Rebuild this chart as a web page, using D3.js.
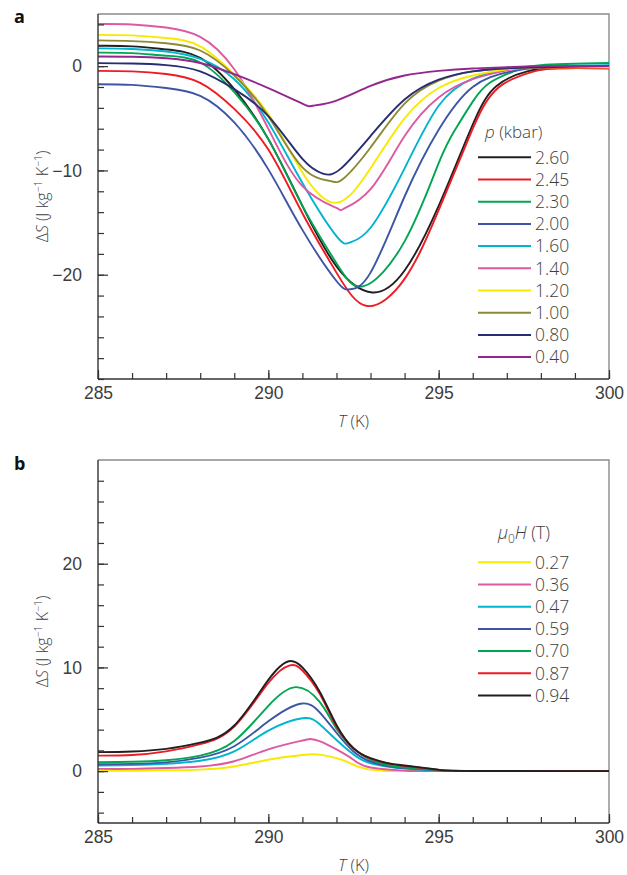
<!DOCTYPE html>
<html>
<head>
<meta charset="utf-8">
<script src="https://cdn.jsdelivr.net/npm/d3@7/dist/d3.min.js"></script>
<style>
  html, body { margin: 0; padding: 0; background: #fff; }
  svg { display: block; font-family: "Open Sans", "Noto Sans", sans-serif; }
</style>
</head>
<body>
<svg id="chart" width="627" height="875"></svg>
<script>
// ---------------- DATA ----------------
// Panel a: ΔS vs T for hydrostatic pressure p (kbar)
const pressureLabels = ["2.60", "2.45", "2.30", "2.00", "1.60", "1.40", "1.20", "1.00", "0.80", "0.40"];
const p260 = [[285,1.95],[286,1.9],[287,1.6],[288,0.8],[289,-2.2],[290,-7.0],[291,-13.4],[292,-19.2],[293.05,-21.7],[294,-19.6],[295,-13.4],[296,-5.6],[296.7,-1.9],[297.6,-0.5],[298.5,-0.2],[300,-0.2]];
const p245 = [[285,-0.45],[286,-0.5],[287,-0.75],[288,-1.6],[289,-4.1],[290,-8.0],[291,-14.1],[292,-19.8],[292.9,-23.0],[294,-20.4],[295,-13.8],[296,-6.0],[296.4,-3.4],[296.9,-1.7],[297.8,-0.5],[298.5,-0.2],[300,-0.2]];
const p230 = [[285,1.3],[286,1.25],[287,1.0],[288,0.35],[289,-2.5],[290,-7.0],[291,-13.4],[292,-18.9],[292.8,-21.1],[294,-16.8],[295,-9.3],[295.5,-6.0],[296,-3.4],[296.5,-1.6],[297.2,-0.5],[298,0.1],[300,0.3]];
const p200 = [[285,-1.73],[286,-1.8],[287,-2.1],[288,-2.85],[289,-5.4],[290,-9.9],[291,-15.7],[292,-20.6],[292.4,-21.4],[293,-19.8],[294,-12.5],[295,-6.1],[296,-2.0],[297,-0.6],[298,-0.1],[300,0.0]];
const p160 = [[285,1.7],[286,1.65],[287,1.4],[288,0.7],[289,-1.25],[290,-5.4],[291,-11.2],[292,-16.3],[292.4,-16.9],[293,-15.5],[294,-9.8],[295,-3.8],[296,-1.2],[297,-0.3],[298,0.0],[300,0.1]];
const p140 = [[285,4.04],[286,4.0],[287,3.7],[288,2.8],[289,-0.3],[290,-6.0],[291,-11.5],[292,-13.6],[292.2,-13.7],[293,-11.8],[294,-6.7],[295,-3.0],[296,-1.25],[297,-0.4],[298,-0.1],[300,-0.1]];
const p120 = [[285,3.0],[286,2.95],[287,2.7],[288,1.9],[289,-0.8],[290,-4.6],[291,-10.2],[292,-13.1],[293,-9.8],[294,-5.0],[295,-2.1],[296,-0.9],[297,-0.3],[298,-0.1],[300,-0.1]];
const p100 = [[285,2.47],[286,2.4],[287,2.2],[288,1.5],[289,-0.9],[290,-4.8],[291,-9.7],[291.8,-11.0],[292.2,-10.8],[293,-7.8],[294,-3.6],[295,-1.4],[296,-0.5],[297,-0.2],[298,0.0],[300,0.0]];
const p080 = [[285,0.29],[286,0.25],[287,0.1],[288,-0.5],[289,-2.2],[290,-4.8],[291,-8.9],[291.6,-10.3],[292.1,-9.9],[293,-6.7],[294,-3.2],[295,-1.3],[296,-0.5],[297,-0.2],[298,-0.1],[300,0.0]];
const p040 = [[285,0.93],[286,0.9],[287,0.75],[288,0.3],[289,-0.77],[290,-2.1],[291,-3.6],[291.3,-3.8],[292,-3.3],[293,-1.9],[294,-0.9],[295,-0.45],[296,-0.22],[297,-0.1],[298,0.0],[300,0.0]];
const pressureSeries = [p260, p245, p230, p200, p160, p140, p120, p100, p080, p040];

// Panel b: ΔS vs T for magnetic field μ0H (T)
const fieldLabels = ["0.27", "0.36", "0.47", "0.59", "0.70", "0.87", "0.94"];
const h027 = [[285,0.03],[286,0.04],[287,0.07],[288,0.15],[289,0.45],[290,1.1],[291,1.55],[291.3,1.63],[291.6,1.55],[292,1.25],[292.4,0.77],[292.9,0.2],[293.5,0.02],[294,0.0],[300,0.0]];
const h036 = [[285,0.22],[286,0.22],[287,0.3],[288,0.45],[289,0.95],[290,2.1],[291,2.95],[291.24,3.1],[291.5,2.9],[292,2.1],[292.5,1.1],[293,0.35],[294,0.05],[295,0.0],[300,0.0]];
const h047 = [[285,0.55],[286,0.58],[287,0.7],[288,1.0],[289,1.9],[290,3.9],[291,5.1],[291.5,4.55],[292,3.0],[292.5,1.6],[293,0.76],[294,0.25],[295,0.05],[296,0.0],[300,0.0]];
const h059 = [[285,0.67],[286,0.7],[287,0.85],[288,1.3],[289,2.4],[290,4.8],[290.94,6.5],[291.5,5.7],[292,3.7],[292.5,1.9],[293,0.93],[293.5,0.5],[294,0.3],[295,0.08],[296,0.0],[300,0.0]];
const h070 = [[285,0.87],[286,0.9],[287,1.05],[288,1.5],[289,2.9],[290,6.3],[290.8,8.1],[291.5,6.7],[292,4.1],[292.5,2.2],[293,1.1],[293.5,0.6],[294,0.35],[295,0.1],[296,0.0],[300,0.0]];
const h087 = [[285,1.5],[286,1.55],[287,1.9],[288,2.6],[289,4.3],[290,8.5],[290.63,10.2],[291,9.7],[291.5,7.5],[292,4.3],[292.5,2.2],[293,1.2],[293.5,0.75],[294,0.5],[295,0.12],[296,0.02],[300,0.0]];
const h094 = [[285,1.83],[286,1.9],[287,2.15],[288,2.75],[289,4.4],[290,8.8],[290.6,10.6],[291,10.0],[291.5,7.7],[292,4.45],[292.5,2.2],[293,1.25],[293.5,0.77],[294,0.55],[295,0.13],[296,0.02],[300,0.0]];
const fieldSeries = [h027, h036, h047, h059, h070, h087, h094];

// Axis ticks
const xTickMajor = [285, 290, 295, 300];
const xTickMinor = d3.range(285, 301, 1);
const yTopMajor = [-20, -10, 0];
const yTopMinor = d3.range(-30, 5, 2);
const yBotMajor = [0, 10, 20];
const yBotMinor = d3.range(-4, 30, 2);

// ---------------- STYLE ----------------
const pressureColors = ["#231f20", "#ed1c24", "#00a651", "#3c55a5", "#00b4d2", "#dc5aa2", "#f7ea00", "#8c8a37", "#262d73", "#93278f"];
const fieldColors = ["#f7ea00", "#dc5aa2", "#00b4d2", "#3c55a5", "#00a651", "#ed1c24", "#231f20"];

const svg = d3.select("#chart");
const X0 = 98, X1 = 609;
const x = d3.scaleLinear().domain([285, 300]).range([X0, X1]);
const textColor = "#3d3d3d";
const fontSize = 17.5;

function panel(opts) {
  const { top, bottom, yDomain, series, colors, labels, yMajor, yMinor, legendTitle, legendLabelY0, letter, clipId } = opts;
  const y = d3.scaleLinear().domain(yDomain).range([bottom, top]);
  const g = svg.append("g");

  g.append("clipPath").attr("id", clipId).append("rect")
    .attr("x", X0).attr("y", top).attr("width", X1 - X0).attr("height", bottom - top);

  // frame: top & right in grey
  g.append("path").attr("d", `M${X0},${top}H${X1}V${bottom}`)
    .attr("fill", "none").attr("stroke", "#8a8a8a").attr("stroke-width", 1.4);

  // curves
  const line = d3.line().x(d => x(d[0])).y(d => y(d[1])).curve(d3.curveNatural);
  const cg = g.append("g").attr("clip-path", `url(#${clipId})`);
  series.forEach((s, i) => {
    cg.append("path").datum(s).attr("d", line)
      .attr("fill", "none").attr("stroke", colors[i]).attr("stroke-width", 1.9)
      .attr("stroke-linejoin", "round");
  });

  // y axis minor + major (inward ticks)
  const yMinorAxis = d3.axisLeft(y).tickValues(yMinor).tickSize(-6).tickFormat("");
  const yMajorAxis = d3.axisLeft(y).tickValues(yMajor).tickSize(-10).tickPadding(6 + 10)
    .tickFormat(d3.format("d"));
  const ya = g.append("g").attr("transform", `translate(${X0},0)`);
  ya.call(yMinorAxis);
  const yb = g.append("g").attr("transform", `translate(${X0},0)`).call(yMajorAxis);
  [ya, yb].forEach(a => {
    a.selectAll(".domain").remove();
    a.selectAll("line").attr("stroke", "#333").attr("stroke-width", 1.2);
  });
  yb.selectAll("text").attr("font-size", fontSize).attr("fill", textColor).attr("font-weight", 300);
  g.append("line").attr("x1", X0).attr("x2", X0).attr("y1", top).attr("y2", bottom)
    .attr("stroke", "#333").attr("stroke-width", 1.4);

  // x axis
  const xMinorAxis = d3.axisBottom(x).tickValues(xTickMinor).tickSize(-6).tickFormat("");
  const xMajorAxis = d3.axisBottom(x).tickValues(xTickMajor).tickSize(-9).tickPadding(12)
    .tickFormat(d3.format("d"));
  const xa = g.append("g").attr("transform", `translate(0,${bottom})`).call(xMinorAxis);
  const xb = g.append("g").attr("transform", `translate(0,${bottom})`).call(xMajorAxis);
  [xa, xb].forEach(a => {
    a.selectAll(".domain").remove();
    a.selectAll("line").attr("stroke", "#333").attr("stroke-width", 1.2);
  });
  xb.selectAll("text").attr("font-size", fontSize).attr("fill", textColor).attr("font-weight", 300)
    .attr("dy", null).attr("y", 20);
  g.append("line").attr("x1", X0).attr("x2", X1).attr("y1", bottom).attr("y2", bottom)
    .attr("stroke", "#333").attr("stroke-width", 1.4);

  // axis titles
  const xt = g.append("text").attr("x", (X0 + X1) / 2).attr("y", bottom + 48)
    .attr("text-anchor", "middle").attr("font-size", 16.5).attr("fill", textColor).attr("font-weight", 300);
  xt.append("tspan").attr("font-style", "italic").text("T");
  xt.append("tspan").text(" (K)");

  const cy = (top + bottom) / 2;
  const yt = g.append("text").attr("transform", `translate(48,${cy}) rotate(-90)`)
    .attr("text-anchor", "middle").attr("font-size", 16).attr("fill", textColor).attr("font-weight", 300);
  yt.append("tspan").text("Δ");
  yt.append("tspan").attr("font-style", "italic").text("S");
  yt.append("tspan").text(" (J kg");
  yt.append("tspan").attr("font-size", 10.5).attr("dy", -6).text("−1");
  yt.append("tspan").attr("dy", 6).text(" K");
  yt.append("tspan").attr("font-size", 10.5).attr("dy", -6).text("−1");
  yt.append("tspan").attr("dy", 6).text(")");

  // panel letter
  g.append("text").attr("x", 14).attr("y", letter.y).attr("font-size", 18)
    .attr("font-weight", 700).attr("fill", "#111").text(letter.t);

  // legend
  const lg = g.append("g");
  legendTitle(lg);
  labels.forEach((lab, i) => {
    const yy = legendLabelY0 + i * 22.2;
    lg.append("line").attr("x1", 478).attr("x2", 531).attr("y1", yy).attr("y2", yy)
      .attr("stroke", colors[i]).attr("stroke-width", 2);
    lg.append("text").attr("x", 535).attr("y", yy).attr("dy", "0.36em")
      .attr("font-size", fontSize).attr("fill", textColor).attr("font-weight", 300).text(lab);
  });
}

panel({
  top: 14, bottom: 379, yDomain: [-30, 5],
  series: pressureSeries, colors: pressureColors, labels: pressureLabels,
  yMajor: yTopMajor, yMinor: yTopMinor,
  legendLabelY0: 157.3,
  letter: { t: "a", y: 23 },
  clipId: "clipA",
  legendTitle: lg => {
    const t = lg.append("text").attr("x", 485).attr("y", 138).attr("font-size", 17)
      .attr("fill", textColor).attr("font-weight", 300);
    t.append("tspan").attr("font-style", "italic").text("p");
    t.append("tspan").text(" (kbar)");
  }
});

panel({
  top: 460, bottom: 823, yDomain: [-5, 30],
  series: fieldSeries, colors: fieldColors, labels: fieldLabels,
  yMajor: yBotMajor, yMinor: yBotMinor,
  legendLabelY0: 562.3,
  letter: { t: "b", y: 470 },
  clipId: "clipB",
  legendTitle: lg => {
    const t = lg.append("text").attr("x", 498).attr("y", 539).attr("font-size", 17.5)
      .attr("fill", textColor).attr("font-weight", 300);
    t.append("tspan").attr("font-style", "italic").text("μ");
    t.append("tspan").attr("font-size", 12).attr("dy", 4).text("0");
    t.append("tspan").attr("font-style", "italic").attr("dy", -4).text("H");
    t.append("tspan").text(" (T)");
  }
});
</script>
</body>
</html>
